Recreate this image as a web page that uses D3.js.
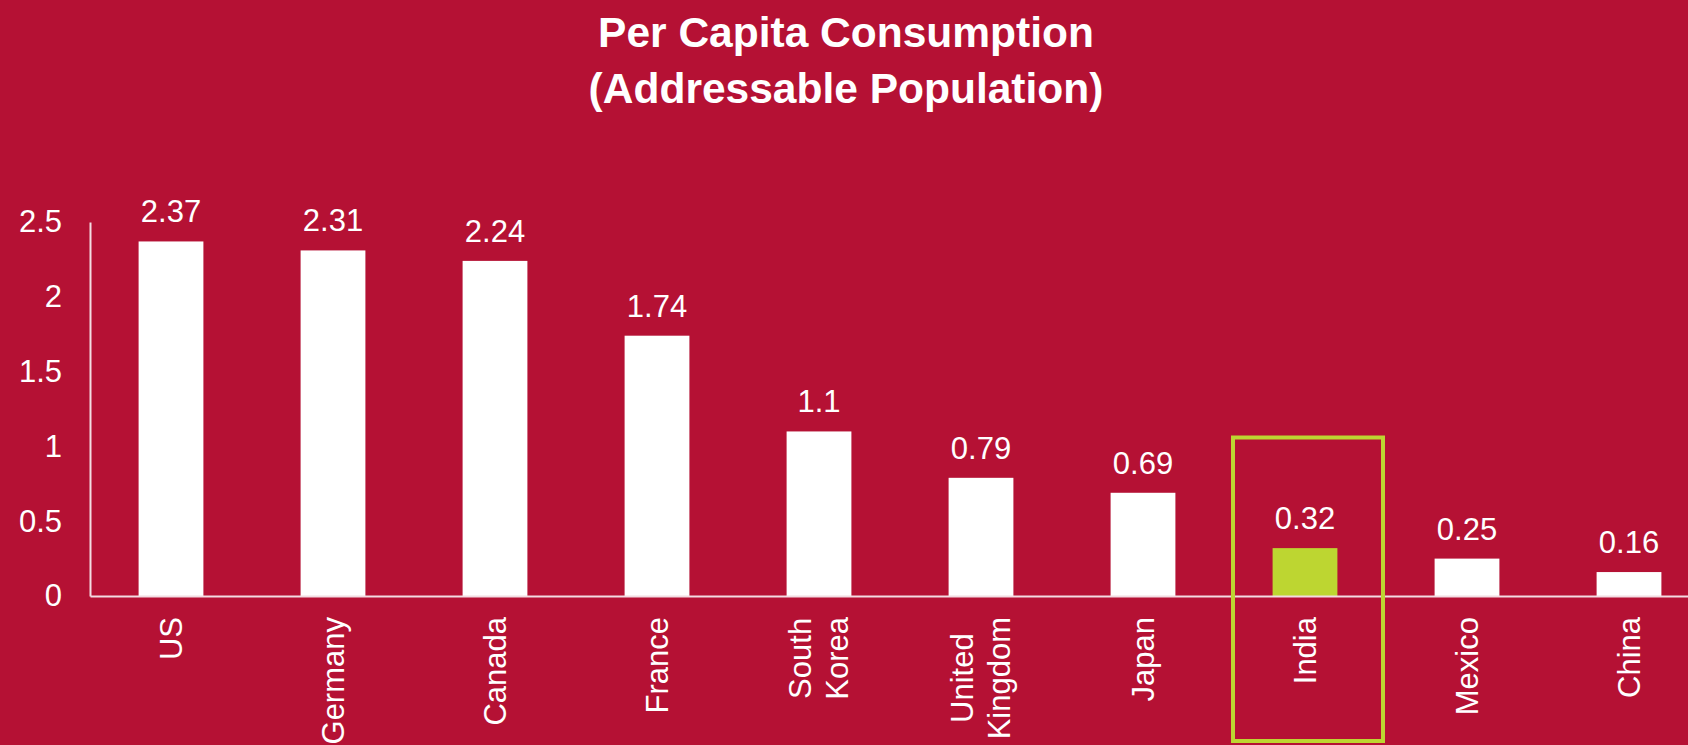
<!DOCTYPE html>
<html>
<head>
<meta charset="utf-8">
<script src="https://cdn.jsdelivr.net/npm/d3@7"></script>
<style>
  html, body { margin: 0; padding: 0; background: #b51134; }
  svg { display: block; }
  text { font-family: "Liberation Sans", Arial, sans-serif; fill: #ffffff; }
</style>
</head>
<body>
<svg id="chart" width="1688" height="745"></svg>
<script>
// Per-capita consumption by country
const categories = ["US", "Germany", "Canada", "France", "South\nKorea", "United\nKingdom", "Japan", "India", "Mexico", "China"];
const values = [2.37, 2.31, 2.24, 1.74, 1.1, 0.79, 0.69, 0.32, 0.25, 0.16];
const yTicks = [0, 0.5, 1, 1.5, 2, 2.5];
const highlighted = "India";
const titleLines = ["Per Capita Consumption", "(Addressable Population)"];

const W = 1688, H = 745;
const bg = "#b51134", barColor = "#ffffff", highlightColor = "#bdd631", axisColor = "#f3dce2";
const fontSize = 31;

const svg = d3.select("#chart");
svg.append("rect").attr("width", W).attr("height", H).attr("fill", bg);

const x = d3.scaleBand()
  .domain(categories)
  .range([90, 90 + 10 * 162])
  .paddingInner(0.6)
  .paddingOuter(0.3);

const y = d3.scaleLinear().domain([0, 2.5]).range([596, 222]);

// Title
svg.append("g").selectAll("text")
  .data(titleLines)
  .join("text")
  .attr("x", 846)
  .attr("y", (d, i) => 46.7 + i * 56.6)
  .attr("text-anchor", "middle")
  .style("font-size", "42.5px")
  .style("font-weight", "bold")
  .text(d => d);

// Bars
const data = categories.map((c, i) => ({ c, v: values[i] }));
svg.append("g").selectAll("rect")
  .data(data)
  .join("rect")
  .attr("x", d => x(d.c))
  .attr("width", x.bandwidth())
  .attr("y", d => y(d.v))
  .attr("height", d => y(0) - y(d.v))
  .attr("fill", d => d.c === highlighted ? highlightColor : barColor);

// Value labels
svg.append("g").selectAll("text")
  .data(data)
  .join("text")
  .attr("x", d => x(d.c) + x.bandwidth() / 2)
  .attr("y", d => y(d.v) - 19)
  .attr("text-anchor", "middle")
  .style("font-size", fontSize + "px")
  .text(d => String(d.v));

// Y axis
const yAxis = svg.append("g")
  .attr("transform", "translate(90,0)")
  .call(d3.axisLeft(y).tickValues(yTicks).tickFormat(d => String(d)).tickSize(0).tickSizeOuter(0).tickPadding(28));
yAxis.select(".domain").attr("stroke", axisColor).attr("stroke-width", 2);
yAxis.selectAll("text")
  .style("font-size", fontSize + "px")
  .style("font-family", "'Liberation Sans', Arial, sans-serif")
  .attr("fill", "#ffffff");

// X axis
const xAxis = svg.append("g")
  .attr("transform", "translate(0,596)")
  .call(d3.axisBottom(x).tickSize(0).tickSizeOuter(0).tickFormat(""));
xAxis.select(".domain").attr("stroke", axisColor).attr("stroke-width", 2);
xAxis.selectAll(".tick text").remove();

// Rotated category labels, multi-line ones centred within their block
xAxis.selectAll(".tick").each(function(d) {
  const lines = d.split("\n");
  const g = d3.select(this);
  const t = g.append("text")
    .attr("transform", "rotate(-90)")
    .attr("text-anchor", "middle")
    .style("font-size", fontSize + "px");
  const spans = lines.map((line, i) => t.append("tspan")
    .attr("x", 0)
    .attr("y", (i - (lines.length - 1) / 2) * 37)
    .attr("dy", "0.35em")
    .text(line));
  const L = d3.max(spans, s => s.node().getComputedTextLength());
  spans.forEach(s => s.attr("x", -21 - L / 2));
});

// Highlight frame around the featured country
const hc = x(highlighted) + x.bandwidth() / 2 + 3;
svg.append("rect")
  .attr("x", hc - 75)
  .attr("y", 437.5)
  .attr("width", 150)
  .attr("height", 303.5)
  .attr("fill", "none")
  .attr("stroke", highlightColor)
  .attr("stroke-width", 4);
</script>
</body>
</html>
